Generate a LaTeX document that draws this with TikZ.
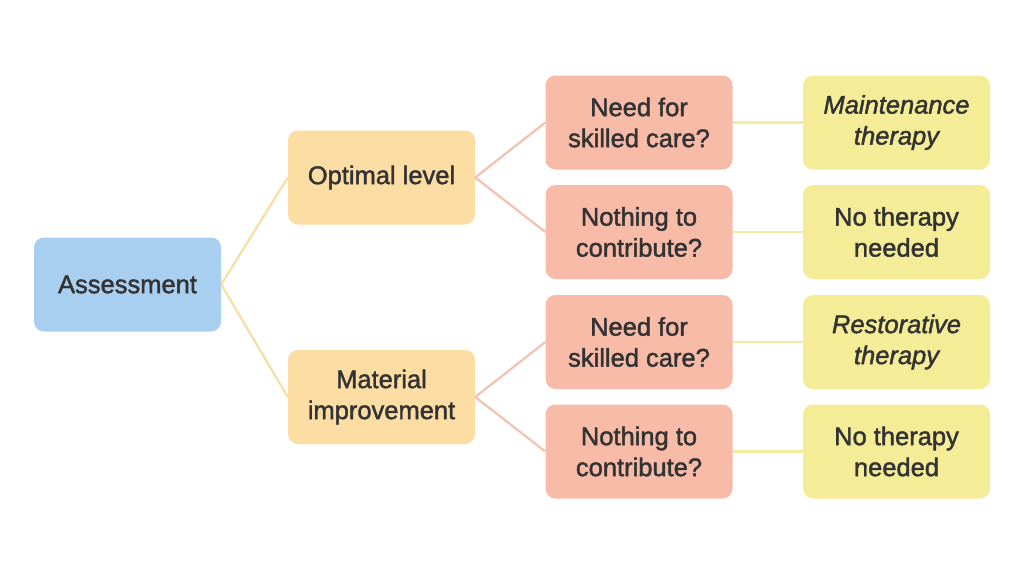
\documentclass[tikz,border=0pt]{standalone}
\usepackage{fontspec}
\setmainfont{Liberation Sans}[UprightFeatures={FakeBold=1.6}, ItalicFeatures={FakeBold=1.6}]
\begin{document}
\begin{tikzpicture}[x=1pt,y=-1pt,
  box/.style={rounded corners=10pt, minimum width=187pt, minimum height=94pt, align=center,
    font=\fontsize{25.5}{31}\selectfont, text=txt, inner sep=0pt},
  bluebox/.style={box, fill=cblue},
  orangebox/.style={box, fill=corange},
  redbox/.style={box, fill=cred},
  yellowbox/.style={box, fill=cyellow},
  lineA/.style={draw=lorange, line width=2.2pt},
  lineB/.style={draw=lred, line width=2.2pt},
  lineC/.style={draw=lyellow, line width=2.2pt}]
\definecolor{cblue}{HTML}{A8CFEF}
\definecolor{corange}{HTML}{FCDDA3}
\definecolor{cred}{HTML}{F7BBA8}
\definecolor{cyellow}{HTML}{F5EC98}
\definecolor{lorange}{HTML}{F9DDA5}
\definecolor{lred}{HTML}{F4C2B2}
\definecolor{lyellow}{HTML}{F2EA9E}
\definecolor{txt}{HTML}{333333}
\useasboundingbox (0,0) rectangle (1024,576);
\fill[white] (0,0) rectangle (1024,576);
\node[bluebox] (as) at (127.5,284.5) {Assessment};
\node[orangebox] (op) at (381.5,177.5) {Optimal level};
\node[orangebox] (mi) at (381.5,397) {Material\\improvement};
\node[redbox] (r1) at (639,122.5) {Need for\\skilled care?};
\node[redbox] (r2) at (639,232) {Nothing to\\contribute?};
\node[redbox] (r3) at (639,342) {Need for\\skilled care?};
\node[redbox] (r4) at (639,451.5) {Nothing to\\contribute?};
\node[yellowbox] (y1) at (896.5,122.5) {\itshape Maintenance\\\itshape therapy};
\node[yellowbox] (y2) at (896.5,232) {No therapy\\needed};
\node[yellowbox] (y3) at (896.5,342) {\itshape Restorative\\\itshape therapy};
\node[yellowbox] (y4) at (896.5,451.5) {No therapy\\needed};
\draw[lineA] (as.east) -- (op.west);
\draw[lineA] (as.east) -- (mi.west);
\draw[lineB] (op.east) -- (r1.west);
\draw[lineB] (op.east) -- (r2.west);
\draw[lineB] (mi.east) -- (r3.west);
\draw[lineB] (mi.east) -- (r4.west);
\draw[lineC] (r1.east) -- (y1.west);
\draw[lineC] (r2.east) -- (y2.west);
\draw[lineC] (r3.east) -- (y3.west);
\draw[lineC] (r4.east) -- (y4.west);
\end{tikzpicture}
\end{document}
